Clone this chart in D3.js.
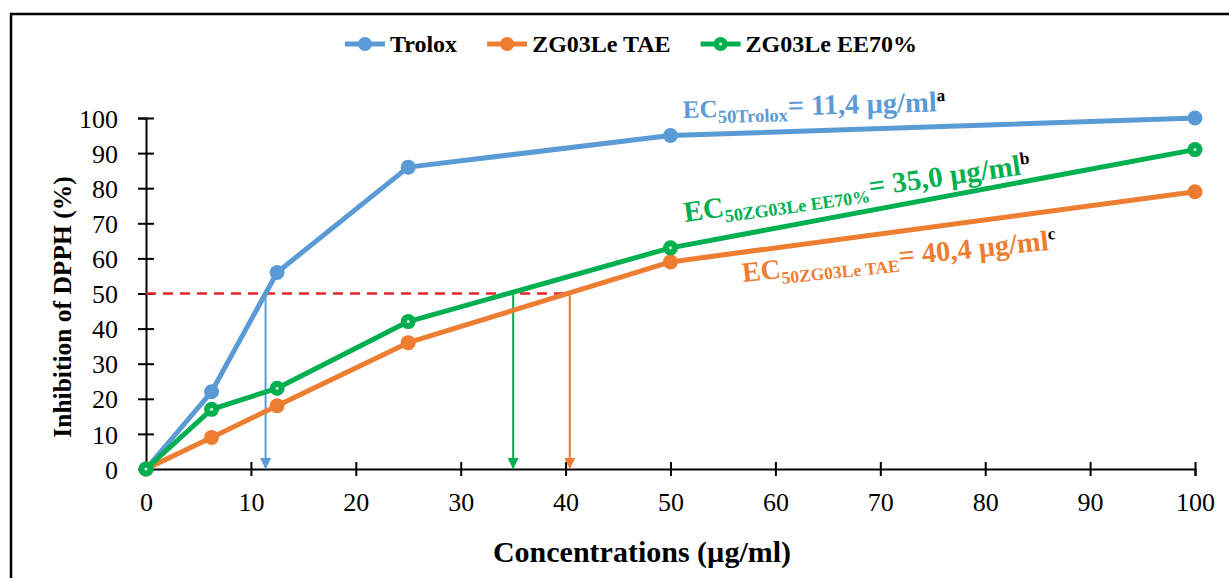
<!DOCTYPE html>
<html>
<head>
<meta charset="utf-8">
<script src="https://cdn.jsdelivr.net/npm/d3@7"></script>
<style>
  body { margin: 0; background: #fff; }
  svg text { font-family: "Liberation Serif", "Times New Roman", Times, serif; }
</style>
</head>
<body>
<div id="chart"></div>
<script>
// concentrations (µg/ml)
const concentrations = [0, 6.25, 12.5, 25, 50, 100];
const seriesNames = ['Trolox', 'ZG03Le TAE', 'ZG03Le EE70%'];
const seriesColors = ['#5B9BD5', '#ED7D31', '#00B050'];
const troloxValues = [0, 22, 56, 86, 95, 100];
const taeValues = [0, 9, 18, 36, 59, 79];
const ee70Values = [0, 17, 23, 42, 63, 91];
const ec50Values = [11.4, 40.4, 35.0];
const ec50Labels = ['Trolox', 'ZG03Le TAE', 'ZG03Le EE70%'];
const ec50Texts = ['= 11,4 µg/ml', '= 40,4 µg/ml', '= 35,0 µg/ml'];
const ec50Sup = ['a', 'c', 'b'];
const xTicks = [0, 10, 20, 30, 40, 50, 60, 70, 80, 90, 100];
const yTicks = [0, 10, 20, 30, 40, 50, 60, 70, 80, 90, 100];

const W = 1229, H = 578;
const margin = {top: 118, right: 34, bottom: 109, left: 146};
const serif = '"Liberation Serif", "Times New Roman", Times, serif';

const svg = d3.select('#chart').append('svg')
  .attr('width', W).attr('height', H)
  .attr('font-family', serif);

// outer frame
svg.append('rect')
  .attr('x', 11).attr('y', 14)
  .attr('width', W + 10).attr('height', H + 10)
  .attr('fill', 'none').attr('stroke', '#000').attr('stroke-width', 2.5);

const x = d3.scaleLinear().domain([0, 100]).range([margin.left, W - margin.right]);
const y = d3.scaleLinear().domain([0, 100]).range([H - margin.bottom, margin.top]);

// axes
const xAxis = svg.append('g')
  .attr('transform', `translate(0,${y(0)})`)
  .call(d3.axisBottom(x).tickValues(xTicks).tickSizeOuter(0).tickSize(7).tickPadding(17));
xAxis.selectAll('.tick line').attr('y1', -7).attr('y2', 7);

const yAxis = svg.append('g')
  .attr('transform', `translate(${x(0)},0)`)
  .call(d3.axisLeft(y).tickValues(yTicks).tickSizeOuter(0).tickSize(8).tickPadding(20));
yAxis.selectAll('.tick line').attr('x1', -8).attr('x2', 8);

svg.selectAll('g').attr('font-family', serif);
svg.selectAll('.domain').attr('stroke', '#000').attr('stroke-width', 2);
svg.selectAll('.tick line').attr('stroke', '#000').attr('stroke-width', 2);
svg.selectAll('.tick text')
  .attr('fill', '#000')
  .style('font-size', '26px');
yAxis.selectAll('.tick text').attr('dy', '0.35em');

// axis titles
svg.append('text')
  .attr('x', 642).attr('y', 562)
  .attr('text-anchor', 'middle')
  .style('font-size', '30px').style('font-weight', 'bold')
  .text('Concentrations (µg/ml)');

svg.append('text')
  .attr('transform', `translate(71,307) rotate(-90)`)
  .attr('text-anchor', 'middle')
  .style('font-size', '25.5px').style('font-weight', 'bold')
  .text('Inhibition of DPPH (%)');

// EC50 guides
const defs = svg.append('defs');
seriesColors.forEach((c, i) => {
  defs.append('marker')
    .attr('id', 'arrow' + i)
    .attr('viewBox', '0 0 10 10')
    .attr('refX', 10).attr('refY', 5)
    .attr('markerWidth', 6.5).attr('markerHeight', 5.5)
    .attr('markerUnits', 'strokeWidth')
    .attr('orient', 'auto')
    .append('path').attr('d', 'M0,0 L10,5 L0,10 Z').attr('fill', c);
});

svg.append('line')
  .attr('x1', x(0)).attr('x2', x(d3.max(ec50Values)))
  .attr('y1', y(50)).attr('y2', y(50))
  .attr('stroke', '#E3242B').attr('stroke-width', 2.5)
  .attr('stroke-dasharray', '10,7');

svg.append('g').selectAll('line')
  .data(ec50Values).enter().append('line')
  .attr('x1', d => x(d)).attr('x2', d => x(d))
  .attr('y1', y(50)).attr('y2', y(0))
  .attr('stroke', (d, i) => seriesColors[i])
  .attr('stroke-width', 2)
  .attr('marker-end', (d, i) => `url(#arrow${i})`);

// series
const seriesValues = [troloxValues, taeValues, ee70Values];
const line = d3.line().x((d, i) => x(concentrations[i])).y(d => y(d));

seriesValues.forEach((vals, s) => {
  const g = svg.append('g');
  g.append('path')
    .datum(vals)
    .attr('d', line)
    .attr('fill', 'none')
    .attr('stroke', seriesColors[s])
    .attr('stroke-width', 5)
    .attr('stroke-linejoin', 'round');
  g.selectAll('circle.pt')
    .data(vals).enter().append('circle')
    .attr('class', 'pt')
    .attr('cx', (d, i) => x(concentrations[i]))
    .attr('cy', d => y(d))
    .attr('r', 7.5)
    .attr('fill', seriesColors[s]);
  if (s === 2) {
    g.selectAll('circle.dot')
      .data(vals).enter().append('circle')
      .attr('class', 'dot')
      .attr('cx', (d, i) => x(concentrations[i]))
      .attr('cy', d => y(d))
      .attr('r', 1.6)
      .attr('fill', '#c8efd6');
  }
});

// legend
let lx = 345;
const ly = 44;
seriesNames.forEach((name, s) => {
  const g = svg.append('g');
  g.append('line')
    .attr('x1', lx).attr('x2', lx + 40).attr('y1', ly).attr('y2', ly)
    .attr('stroke', seriesColors[s]).attr('stroke-width', 5);
  g.append('circle').attr('cx', lx + 20).attr('cy', ly).attr('r', 7).attr('fill', seriesColors[s]);
  if (s === 2) g.append('circle').attr('cx', lx + 20).attr('cy', ly).attr('r', 1.6).attr('fill', '#c8efd6');
  const t = g.append('text')
    .attr('x', lx + 45).attr('y', ly + 8)
    .style('font-size', '24px').style('font-weight', 'bold')
    .text(name);
  lx += 45 + t.node().getComputedTextLength() + 30;
});

// EC50 annotations
const annPos = [
  {x: 683, y: 118, rot: -1.5, ec: 25, sub: 18.5, main: 28.5},
  {x: 743, y: 282, rot: -6, ec: 28, sub: 17.5, main: 28.5},
  {x: 685, y: 222, rot: -8, ec: 29, sub: 18, main: 29}
];
ec50Values.forEach((v, i) => {
  const p = annPos[i];
  const t = svg.append('text')
    .attr('transform', `translate(${p.x},${p.y}) rotate(${p.rot})`)
    .attr('fill', seriesColors[i])
    .style('font-weight', 'bold');
  t.append('tspan').style('font-size', p.ec + 'px').text('EC');
  t.append('tspan').attr('dy', 6).style('font-size', p.sub + 'px').text('50' + ec50Labels[i]);
  t.append('tspan').attr('dy', -6).style('font-size', p.main + 'px').text(ec50Texts[i]);
  t.append('tspan').attr('dy', -10).attr('fill', '#000').style('font-size', (p.main * 0.6) + 'px').text(ec50Sup[i]);
});
</script>
</body>
</html>
